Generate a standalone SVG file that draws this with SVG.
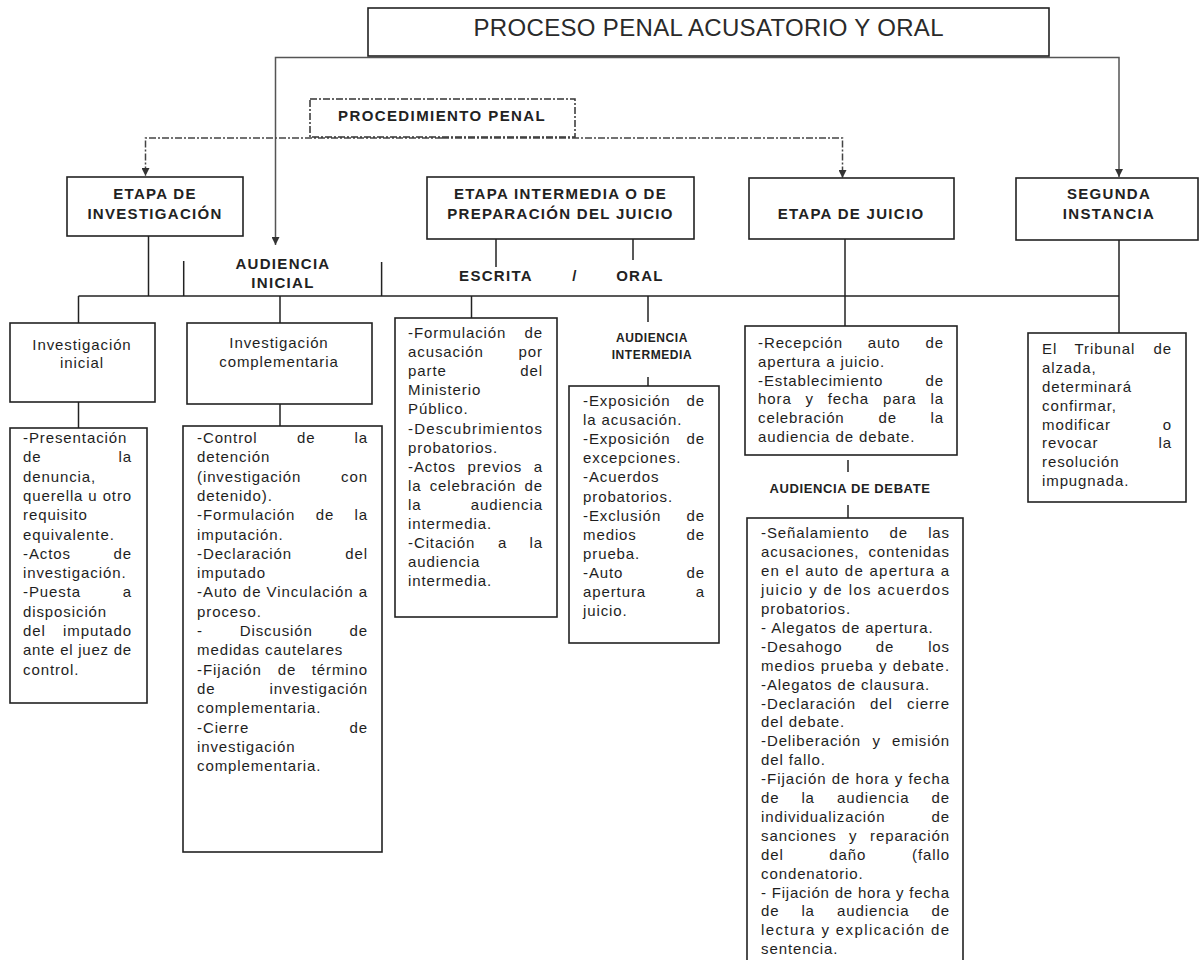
<svg xmlns="http://www.w3.org/2000/svg" width="1201" height="960" viewBox="0 0 1201 960">
<style>
.bx{fill:#fff;stroke:#222;stroke-width:1.6}
.db{fill:#fff;stroke:#333;stroke-width:1.5;stroke-dasharray:7 2 2 2}
.ln{fill:none;stroke:#222;stroke-width:1.5}
.gl{fill:none;stroke:#555;stroke-width:1.5}
.dl{fill:none;stroke:#444;stroke-width:1.5;stroke-dasharray:7 2 2 2}
text{font-family:"Liberation Sans",Arial,sans-serif;fill:#1e1e1e}
.t{font-size:15px;letter-spacing:0.9px}
.e{text-anchor:end}
.c{text-anchor:middle}
.h{font-size:15px;font-weight:bold;letter-spacing:1.3px;text-anchor:middle;fill:#222}
.s{font-size:12px;font-weight:bold;letter-spacing:0.6px;text-anchor:middle;fill:#222}
.ti{font-size:24px;text-anchor:middle;fill:#2a2a2a}
</style>
<defs>
<marker id="arr" viewBox="0 0 8 8" refX="8" refY="4" markerWidth="8" markerHeight="8" markerUnits="userSpaceOnUse" orient="auto"><path d="M0,0 L8,4 L0,8 z" fill="#333"/></marker>
</defs>

<g id="connectors">
<path class="gl" d="M708,57.5 H275.5 V245" marker-end="url(#arr)"/>
<path class="gl" d="M708,57.5 H1119 V177" marker-end="url(#arr)"/>
<path class="dl" d="M442,138 H145.5 V176" marker-end="url(#arr)"/>
<path class="dl" d="M442,138 H842.5 V178" marker-end="url(#arr)"/>
<path class="ln" d="M148.5,236 V296"/>
<path class="ln" d="M78.5,296 H1119"/>
<path class="ln" d="M183.7,261 V296"/>
<path class="ln" d="M381.6,262 V296"/>
<path class="ln" d="M496,239 V267"/>
<path class="ln" d="M633,239 V260"/>
<path class="ln" d="M845,239 V326"/>
<path class="ln" d="M1119,240 V333"/>
<path class="ln" d="M78.5,296 V323"/>
<path class="ln" d="M280,296 V323"/>
<path class="ln" d="M471.5,296 V318"/>
<path class="ln" d="M648,296 V322"/>
<path class="ln" d="M78.5,402 V428"/>
<path class="ln" d="M280,404 V426"/>
<path class="ln" d="M648,377 V386"/>
<path class="ln" d="M848,460 V472"/>
<path class="ln" d="M848,505 V518"/>
</g>

<g id="title">
<rect class="bx" x="368" y="8" width="681" height="48"/>
<text class="ti" x="708.5" y="36" textLength="470">PROCESO PENAL ACUSATORIO Y ORAL</text>
</g>

<g id="procedimiento">
<rect class="db" x="310" y="99" width="265" height="38"/>
<text class="h" x="442" y="120.5" textLength="208">PROCEDIMIENTO PENAL</text>
</g>

<g id="etapa-investigacion">
<rect class="bx" x="67" y="177" width="176" height="59"/>
<text class="h" x="155" y="199">ETAPA DE</text>
<text class="h" x="155" y="219">INVESTIGACIÓN</text>
</g>

<g id="etapa-intermedia">
<rect class="bx" x="427" y="177" width="267" height="62"/>
<text class="h" x="560.5" y="199">ETAPA INTERMEDIA O DE</text>
<text class="h" x="560.5" y="219">PREPARACIÓN DEL JUICIO</text>
</g>

<g id="etapa-juicio">
<rect class="bx" x="749" y="178" width="205" height="61"/>
<text class="h" x="851" y="219">ETAPA DE JUICIO</text>
</g>

<g id="segunda-instancia">
<rect class="bx" x="1016" y="178" width="182" height="62"/>
<text class="h" x="1109" y="199">SEGUNDA</text>
<text class="h" x="1109" y="219">INSTANCIA</text>
</g>

<g id="audiencia-inicial">
<text class="h" x="283" y="269">AUDIENCIA</text>
<text class="h" x="283" y="288">INICIAL</text>
</g>

<g id="escrita-oral">
<text class="h" x="496" y="281">ESCRITA</text>
<text class="h" x="575" y="281">/</text>
<text class="h" x="640" y="281">ORAL</text>
</g>

<g id="investigacion-inicial">
<rect class="bx" x="10" y="323" width="145" height="79"/>
<text class="t c" x="82" y="350">Investigación</text>
<text class="t c" x="82" y="368">inicial</text>
</g>

<g id="investigacion-complementaria">
<rect class="bx" x="187" y="323" width="185" height="81"/>
<text class="t c" x="279" y="348">Investigación</text>
<text class="t c" x="279" y="367">complementaria</text>
</g>

<g id="detalle-inicial">
<rect class="bx" x="10" y="428" width="137" height="275"/>
<text class="t" x="23" y="443">-Presentación</text>
<text class="t" x="23" y="462">de</text><text class="t e" x="132" y="462">la</text>
<text class="t" x="23" y="482">denuncia,</text>
<text class="t" x="23" y="501" textLength="109" lengthAdjust="spacing">querella u otro</text>
<text class="t" x="23" y="520">requisito</text>
<text class="t" x="23" y="540">equivalente.</text>
<text class="t" x="23" y="559">-Actos</text><text class="t e" x="132" y="559">de</text>
<text class="t" x="23" y="578">investigación.</text>
<text class="t" x="23" y="597">-Puesta</text><text class="t e" x="132" y="597">a</text>
<text class="t" x="23" y="617">disposición</text>
<text class="t" x="23" y="636">del</text><text class="t e" x="132" y="636">imputado</text>
<text class="t" x="23" y="655" textLength="109" lengthAdjust="spacing">ante el juez de</text>
<text class="t" x="23" y="675">control.</text>
</g>

<g id="detalle-complementaria">
<rect class="bx" x="183" y="426" width="199" height="426"/>
<text class="t" x="197" y="443">-Control</text><text class="t" x="297" y="443">de</text><text class="t e" x="368" y="443">la</text>
<text class="t" x="197" y="462">detención</text>
<text class="t" x="197" y="482">(investigación</text><text class="t e" x="368" y="482">con</text>
<text class="t" x="197" y="501">detenido).</text>
<text class="t" x="197" y="520">-Formulación</text><text class="t" x="315.7" y="520">de</text><text class="t e" x="368" y="520">la</text>
<text class="t" x="197" y="540">imputación.</text>
<text class="t" x="197" y="559">-Declaración</text><text class="t e" x="368" y="559">del</text>
<text class="t" x="197" y="578">imputado</text>
<text class="t" x="197" y="597" textLength="171" lengthAdjust="spacing">-Auto de Vinculación a</text>
<text class="t" x="197" y="617">proceso.</text>
<text class="t" x="197" y="636">-</text><text class="t" x="239.7" y="636">Discusión</text><text class="t e" x="368" y="636">de</text>
<text class="t" x="197" y="655">medidas cautelares</text>
<text class="t" x="197" y="675">-Fijación</text><text class="t" x="277.8" y="675">de</text><text class="t e" x="368" y="675">término</text>
<text class="t" x="197" y="694">de</text><text class="t e" x="368" y="694">investigación</text>
<text class="t" x="197" y="713">complementaria.</text>
<text class="t" x="197" y="733">-Cierre</text><text class="t e" x="368" y="733">de</text>
<text class="t" x="197" y="752">investigación</text>
<text class="t" x="197" y="771">complementaria.</text>
</g>

<g id="detalle-escrita">
<rect class="bx" x="395" y="318" width="162" height="299"/>
<text class="t" x="408" y="338">-Formulación</text><text class="t e" x="543" y="338">de</text>
<text class="t" x="408" y="357">acusación</text><text class="t e" x="543" y="357">por</text>
<text class="t" x="408" y="376">parte</text><text class="t e" x="543" y="376">del</text>
<text class="t" x="408" y="395">Ministerio</text>
<text class="t" x="408" y="414">Público.</text>
<text class="t" x="408" y="434" textLength="135" lengthAdjust="spacing">-Descubrimientos</text>
<text class="t" x="408" y="453">probatorios.</text>
<text class="t" x="408" y="472">-Actos</text><text class="t" x="467.5" y="472">previos</text><text class="t e" x="543" y="472">a</text>
<text class="t" x="408" y="491">la</text><text class="t" x="429.7" y="491">celebración</text><text class="t e" x="543" y="491">de</text>
<text class="t" x="408" y="510">la</text><text class="t e" x="543" y="510">audiencia</text>
<text class="t" x="408" y="529">intermedia.</text>
<text class="t" x="408" y="548">-Citación</text><text class="t" x="498" y="548">a</text><text class="t e" x="543" y="548">la</text>
<text class="t" x="408" y="567">audiencia</text>
<text class="t" x="408" y="586">intermedia.</text>
</g>

<g id="audiencia-intermedia">
<text class="s" x="652" y="342">AUDIENCIA</text>
<text class="s" x="652" y="359">INTERMEDIA</text>
<rect class="bx" x="569" y="386" width="150" height="257"/>
<text class="t" x="583" y="406">-Exposición</text><text class="t e" x="705" y="406">de</text>
<text class="t" x="583" y="425">la acusación.</text>
<text class="t" x="583" y="444">-Exposición</text><text class="t e" x="705" y="444">de</text>
<text class="t" x="583" y="463">excepciones.</text>
<text class="t" x="583" y="482">-Acuerdos</text>
<text class="t" x="583" y="502">probatorios.</text>
<text class="t" x="583" y="521">-Exclusión</text><text class="t e" x="705" y="521">de</text>
<text class="t" x="583" y="540">medios</text><text class="t e" x="705" y="540">de</text>
<text class="t" x="583" y="559">prueba.</text>
<text class="t" x="583" y="578">-Auto</text><text class="t e" x="705" y="578">de</text>
<text class="t" x="583" y="597">apertura</text><text class="t e" x="705" y="597">a</text>
<text class="t" x="583" y="616">juicio.</text>
</g>

<g id="recepcion">
<rect class="bx" x="745" y="326" width="212" height="129"/>
<text class="t" x="758" y="348">-Recepción</text><text class="t" x="867.8" y="348">auto</text><text class="t e" x="944" y="348">de</text>
<text class="t" x="758" y="367">apertura a juicio.</text>
<text class="t" x="758" y="386">-Establecimiento</text><text class="t e" x="944" y="386">de</text>
<text class="t" x="758" y="404">hora</text><text class="t" x="805.5" y="404">y</text><text class="t" x="827.8" y="404">fecha</text><text class="t" x="882.9" y="404">para</text><text class="t e" x="944" y="404">la</text>
<text class="t" x="758" y="423">celebración</text><text class="t" x="878.5" y="423">de</text><text class="t e" x="944" y="423">la</text>
<text class="t" x="758" y="442">audiencia de debate.</text>
</g>

<g id="audiencia-debate">
<text class="s" x="850" y="493" style="font-size:13px">AUDIENCIA DE DEBATE</text>
<rect class="bx" x="747" y="518" width="216" height="446"/>
<text class="t" x="761" y="538">-Señalamiento</text><text class="t" x="889.5" y="538">de</text><text class="t e" x="950" y="538">las</text>
<text class="t" x="761" y="557">acusaciones,</text><text class="t e" x="950" y="557">contenidas</text>
<text class="t" x="761" y="576" textLength="189" lengthAdjust="spacing">en el auto de apertura a</text>
<text class="t" x="761" y="595" textLength="189" lengthAdjust="spacing">juicio y de los acuerdos</text>
<text class="t" x="761" y="614">probatorios.</text>
<text class="t" x="761" y="633">- Alegatos de apertura.</text>
<text class="t" x="761" y="652">-Desahogo</text><text class="t" x="875.8" y="652">de</text><text class="t e" x="950" y="652">los</text>
<text class="t" x="761" y="671" textLength="189" lengthAdjust="spacing">medios prueba y debate.</text>
<text class="t" x="761" y="690">-Alegatos de clausura.</text>
<text class="t" x="761" y="709">-Declaración</text><text class="t" x="870" y="709">del</text><text class="t e" x="950" y="709">cierre</text>
<text class="t" x="761" y="727">del debate.</text>
<text class="t" x="761" y="746">-Deliberación</text><text class="t" x="872.6" y="746">y</text><text class="t e" x="950" y="746">emisión</text>
<text class="t" x="761" y="765">del fallo.</text>
<text class="t" x="761" y="784" textLength="189" lengthAdjust="spacing">-Fijación de hora y fecha</text>
<text class="t" x="761" y="803">de</text><text class="t" x="801.4" y="803">la</text><text class="t" x="837.1" y="803">audiencia</text><text class="t e" x="950" y="803">de</text>
<text class="t" x="761" y="822">individualización</text><text class="t e" x="950" y="822">de</text>
<text class="t" x="761" y="841">sanciones</text><text class="t" x="849" y="841">y</text><text class="t e" x="950" y="841">reparación</text>
<text class="t" x="761" y="860">del</text><text class="t" x="829.3" y="860">daño</text><text class="t e" x="950" y="860">(fallo</text>
<text class="t" x="761" y="879">condenatorio.</text>
<text class="t" x="761" y="898" textLength="189" lengthAdjust="spacing">- Fijación de hora y fecha</text>
<text class="t" x="761" y="916">de</text><text class="t" x="801.4" y="916">la</text><text class="t" x="837.1" y="916">audiencia</text><text class="t e" x="950" y="916">de</text>
<text class="t" x="761" y="935" textLength="189" lengthAdjust="spacing">lectura y explicación de</text>
<text class="t" x="761" y="954">sentencia.</text>
</g>

<g id="tribunal">
<rect class="bx" x="1028" y="333" width="158" height="169"/>
<text class="t" x="1042" y="354">El</text><text class="t" x="1074.5" y="354">Tribunal</text><text class="t e" x="1172" y="354">de</text>
<text class="t" x="1042" y="373">alzada,</text>
<text class="t" x="1042" y="392">determinará</text>
<text class="t" x="1042" y="411">confirmar,</text>
<text class="t" x="1042" y="430">modificar</text><text class="t e" x="1172" y="430">o</text>
<text class="t" x="1042" y="448">revocar</text><text class="t e" x="1172" y="448">la</text>
<text class="t" x="1042" y="467">resolución</text>
<text class="t" x="1042" y="486">impugnada.</text>
</g>
</svg>
